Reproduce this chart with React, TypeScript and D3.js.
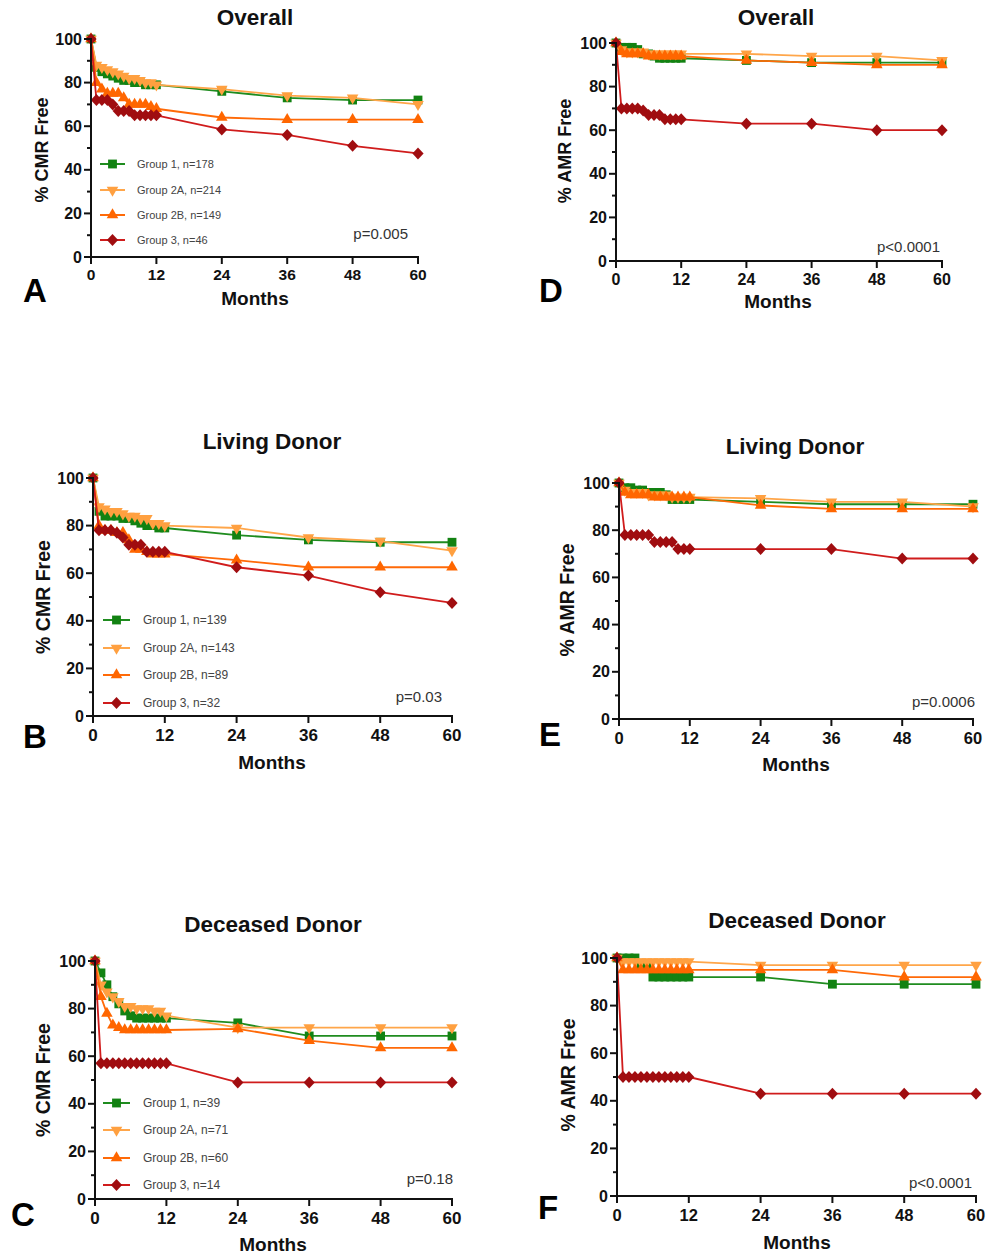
import React from "react";
import * as d3 from "d3";

// Follow-up time points (months) shared by every curve
const MONTHS = [0, 1, 2, 3, 4, 5, 6, 7, 8, 9, 10, 11, 12, 24, 36, 48, 60];
const X_TICKS = [0, 12, 24, 36, 48, 60];
const Y_TICKS = [0, 20, 40, 60, 80, 100];
const Y_MINOR = [10, 30, 50, 70, 90];
const GROUP_NAMES = ["Group 1", "Group 2A", "Group 2B", "Group 3"];

// CMR-free, overall
const CMR_ALL_G1 = [100, 87, 85, 84, 83, 82, 81, 81, 80, 80, 79, 79, 79, 76, 73, 72, 72];
const CMR_ALL_G2A = [100, 88, 87, 86, 85, 84, 83, 82, 82, 81, 80, 80, 79, 77, 74, 73, 70];
const CMR_ALL_G2B = [100, 80, 77, 75, 75, 75, 73, 70, 70, 70, 70, 69, 68, 64, 63, 63, 63];
const CMR_ALL_G3 = [100, 72, 72, 72, 70, 67, 67, 67, 65, 65, 65, 65, 65, 58.5, 56, 51, 47.5];
const CMR_ALL_N = [178, 214, 149, 46];

// CMR-free, living donor
const CMR_LD_G1 = [100, 86, 84, 84, 84, 83, 83, 82, 81, 80, 80, 79, 79, 76, 74, 73, 73];
const CMR_LD_G2A = [100, 88, 87, 86, 86, 85, 84, 84, 83, 83, 81, 81, 80, 79, 75, 73.5, 69.5];
const CMR_LD_G2B = [100, 80, 78, 78, 77, 77, 74, 70, 70, 69, 68, 68, 68, 65.5, 62.5, 62.5, 62.5];
const CMR_LD_G3 = [100, 78, 78, 78, 77, 75, 72, 72, 72, 69, 69, 69, 69, 62.5, 59, 52, 47.5];
const CMR_LD_N = [139, 143, 89, 32];

// CMR-free, deceased donor
const CMR_DD_G1 = [100, 95, 90, 85, 82, 79, 77, 76, 76, 76, 76, 76, 76, 74, 68.5, 68.5, 68.5];
const CMR_DD_G2A = [100, 90, 87, 85, 83, 81, 81, 80, 80, 80, 79, 79, 77, 72, 72, 72, 72];
const CMR_DD_G2B = [100, 85, 78, 73, 72, 71, 71, 71, 71, 71, 71, 71, 71, 71.5, 66.5, 63.5, 63.5];
const CMR_DD_G3 = [100, 57, 57, 57, 57, 57, 57, 57, 57, 57, 57, 57, 57, 49, 49, 49, 49];
const CMR_DD_N = [39, 71, 60, 14];

// AMR-free, overall
const AMR_ALL_G1 = [100, 98, 98, 98, 97, 95, 95, 94, 93, 93, 93, 93, 93, 92, 91, 91, 91];
const AMR_ALL_G2A = [100, 97, 96, 96, 96, 96, 95, 95, 95, 95, 95, 95, 95, 95, 94, 94, 92];
const AMR_ALL_G2B = [100, 96, 95, 95, 95, 95, 94, 94, 94, 94, 94, 94, 94, 92, 91, 90, 90];
const AMR_ALL_G3 = [100, 70, 70, 70, 70, 69, 67, 67, 67, 65, 65, 65, 65, 63, 63, 60, 60];

// AMR-free, living donor
const AMR_LD_G1 = [100, 98, 98, 97, 97, 96, 96, 96, 95, 93, 93, 93, 93, 92, 91, 91, 91];
const AMR_LD_G2A = [100, 97, 96, 96, 96, 95, 95, 95, 95, 94, 94, 94, 94, 93.5, 92, 92, 90];
const AMR_LD_G2B = [100, 96, 95, 95, 95, 95, 94, 94, 94, 94, 94, 94, 94, 90.5, 89, 89, 89];
const AMR_LD_G3 = [100, 78, 78, 78, 78, 78, 75, 75, 75, 75, 72, 72, 72, 72, 72, 68, 68];

// AMR-free, deceased donor
const AMR_DD_G1 = [100, 100, 100, 100, 97, 97, 92, 92, 92, 92, 92, 92, 92, 92, 89, 89, 89];
const AMR_DD_G2A = [100, 98.5, 98.5, 98.5, 98.5, 98.5, 98.5, 98.5, 98.5, 98.5, 98.5, 98.5, 98.5, 97, 97, 97, 97];
const AMR_DD_G2B = [100, 95, 95, 95, 95, 95, 95, 95, 95, 95, 95, 95, 95, 95, 95, 92, 92];
const AMR_DD_G3 = [100, 50, 50, 50, 50, 50, 50, 50, 50, 50, 50, 50, 50, 43, 43, 43, 43];

const FONT = "'Liberation Sans', Arial, Helvetica, sans-serif";

type Style = { line: string; fill: string; shape: "square" | "down" | "up" | "diamond" };
const STYLES: Style[] = [
  { line: "#1f8c1f", fill: "#128212", shape: "square" },
  { line: "#ffa64a", fill: "#ffa040", shape: "down" },
  { line: "#ff6a08", fill: "#ff6600", shape: "up" },
  { line: "#d01c1c", fill: "#a00d10", shape: "diamond" },
];

// square and triangles come from d3.symbol; the diamond is a slightly wider custom rhombus
const DIAMOND = "M0,-6L5.6,0L0,6L-5.6,0Z";
const symbolPath = (shape: Style["shape"]) => {
  if (shape === "square") return d3.symbol(d3.symbolSquare, 78)() as string;
  if (shape === "diamond") return DIAMOND;
  return d3.symbol(d3.symbolTriangle, 58)() as string;
};

const Marker = ({ x, y, s }: { x: number; y: number; s: Style }) => (
  <path
    d={symbolPath(s.shape)}
    transform={`translate(${x},${y})${s.shape === "down" ? " rotate(180)" : ""}`}
    fill={s.fill}
  />
);

type PanelCfg = {
  x0: number; x1: number; yTop: number; yBot: number;
  title: string; titleX: number; titleY: number;
  letter: string; letterX: number; letterY: number;
  yLabel: string; yLabelX: number; yLabelY: number; yLabelFs: number;
  monthsX: number; monthsY: number;
  xTickFs: number; xTickDy: number;
  pText: string; pX: number; pY: number;
  series: number[][];
  legendN?: number[];
  legend?: { lx1: number; lx2: number; tx: number; rows: number[]; fs: number };
};

const PANELS: PanelCfg[] = [
  {
    x0: 91, x1: 418, yTop: 39, yBot: 257,
    title: "Overall", titleX: 255, titleY: 25,
    letter: "A", letterX: 35, letterY: 302,
    yLabel: "% CMR Free", yLabelX: 48, yLabelY: 150, yLabelFs: 18,
    monthsX: 255, monthsY: 305, xTickFs: 15.5, xTickDy: 23,
    pText: "p=0.005", pX: 408, pY: 239,
    series: [CMR_ALL_G1, CMR_ALL_G2A, CMR_ALL_G2B, CMR_ALL_G3],
    legendN: CMR_ALL_N,
    legend: { lx1: 100, lx2: 125, tx: 137, rows: [164, 190, 215, 240], fs: 11 },
  },
  {
    x0: 616, x1: 942, yTop: 43, yBot: 261,
    title: "Overall", titleX: 776, titleY: 25,
    letter: "D", letterX: 551, letterY: 302,
    yLabel: "% AMR Free", yLabelX: 571, yLabelY: 151, yLabelFs: 18,
    monthsX: 778, monthsY: 308, xTickFs: 16, xTickDy: 24,
    pText: "p<0.0001", pX: 940, pY: 252,
    series: [AMR_ALL_G1, AMR_ALL_G2A, AMR_ALL_G2B, AMR_ALL_G3],
  },
  {
    x0: 93, x1: 452, yTop: 478, yBot: 716,
    title: "Living Donor", titleX: 272, titleY: 449,
    letter: "B", letterX: 35, letterY: 748,
    yLabel: "% CMR Free", yLabelX: 50, yLabelY: 597, yLabelFs: 19.5,
    monthsX: 272, monthsY: 769, xTickFs: 17, xTickDy: 25,
    pText: "p=0.03", pX: 442, pY: 702,
    series: [CMR_LD_G1, CMR_LD_G2A, CMR_LD_G2B, CMR_LD_G3],
    legendN: CMR_LD_N,
    legend: { lx1: 103, lx2: 130, tx: 143, rows: [620, 648, 675, 703], fs: 12 },
  },
  {
    x0: 619, x1: 973, yTop: 483, yBot: 719,
    title: "Living Donor", titleX: 795, titleY: 454,
    letter: "E", letterX: 550, letterY: 746,
    yLabel: "% AMR Free", yLabelX: 574, yLabelY: 600, yLabelFs: 19.5,
    monthsX: 796, monthsY: 771, xTickFs: 16.5, xTickDy: 25,
    pText: "p=0.0006", pX: 975, pY: 707,
    series: [AMR_LD_G1, AMR_LD_G2A, AMR_LD_G2B, AMR_LD_G3],
  },
  {
    x0: 95, x1: 452, yTop: 961, yBot: 1199,
    title: "Deceased Donor", titleX: 273, titleY: 932,
    letter: "C", letterX: 23, letterY: 1226,
    yLabel: "% CMR Free", yLabelX: 50, yLabelY: 1080, yLabelFs: 19.5,
    monthsX: 273, monthsY: 1251, xTickFs: 17, xTickDy: 25,
    pText: "p=0.18", pX: 453, pY: 1184,
    series: [CMR_DD_G1, CMR_DD_G2A, CMR_DD_G2B, CMR_DD_G3],
    legendN: CMR_DD_N,
    legend: { lx1: 103, lx2: 130, tx: 143, rows: [1103, 1130, 1158, 1185], fs: 12 },
  },
  {
    x0: 617, x1: 976, yTop: 958, yBot: 1196,
    title: "Deceased Donor", titleX: 797, titleY: 928,
    letter: "F", letterX: 548, letterY: 1219,
    yLabel: "% AMR Free", yLabelX: 575, yLabelY: 1075, yLabelFs: 19.5,
    monthsX: 797, monthsY: 1249, xTickFs: 16.5, xTickDy: 25,
    pText: "p<0.0001", pX: 972, pY: 1188,
    series: [AMR_DD_G1, AMR_DD_G2A, AMR_DD_G2B, AMR_DD_G3],
  },
];

const Panel = ({ p }: { p: PanelCfg }) => {
  const x = d3.scaleLinear().domain([0, 60]).range([p.x0, p.x1]);
  const y = d3.scaleLinear().domain([0, 100]).range([p.yBot, p.yTop]);
  const line = d3
    .line<number>()
    .x((_, i) => x(MONTHS[i]))
    .y((v) => y(v));

  return (
    <g>
      {/* curves: connected KM estimates with markers */}
      {p.series.map((vals, gi) => (
        <g key={gi}>
          <path d={line(vals) as string} fill="none" stroke={STYLES[gi].line} strokeWidth={1.8} />
          {vals.map((v, i) => (
            <Marker key={i} x={x(MONTHS[i])} y={y(v)} s={STYLES[gi]} />
          ))}
        </g>
      ))}

      {/* axes */}
      <line x1={p.x0} x2={p.x0} y1={y(100) - 1} y2={p.yBot + 1} stroke="#111" strokeWidth={2} />
      <line x1={p.x0 - 1} x2={p.x1 + 1} y1={p.yBot} y2={p.yBot} stroke="#111" strokeWidth={2} />
      {Y_TICKS.map((t) => (
        <g key={"y" + t}>
          <line x1={p.x0 - 7} x2={p.x0} y1={y(t)} y2={y(t)} stroke="#111" strokeWidth={2} />
          <text
            x={p.x0 - 9}
            y={y(t) + 5.5}
            textAnchor="end"
            fontFamily={FONT}
            fontWeight="bold"
            fontSize={16}
            fill="#111"
          >
            {t}
          </text>
        </g>
      ))}
      {Y_MINOR.map((t) => (
        <line key={"m" + t} x1={p.x0 - 4} x2={p.x0} y1={y(t)} y2={y(t)} stroke="#111" strokeWidth={2} />
      ))}
      {X_TICKS.map((t) => (
        <g key={"x" + t}>
          <line x1={x(t)} x2={x(t)} y1={p.yBot} y2={p.yBot + 7} stroke="#111" strokeWidth={2} />
          <text
            x={x(t)}
            y={p.yBot + p.xTickDy}
            textAnchor="middle"
            fontFamily={FONT}
            fontWeight="bold"
            fontSize={p.xTickFs}
            fill="#111"
          >
            {t}
          </text>
        </g>
      ))}

      {/* titles and labels */}
      <text x={p.titleX} y={p.titleY} textAnchor="middle" fontFamily={FONT} fontWeight="bold" fontSize={22.5} fill="#111">
        {p.title}
      </text>
      <text x={p.monthsX} y={p.monthsY} textAnchor="middle" fontFamily={FONT} fontWeight="bold" fontSize={19} fill="#111">
        Months
      </text>
      <text
        transform={`translate(${p.yLabelX},${p.yLabelY}) rotate(-90)`}
        textAnchor="middle"
        fontFamily={FONT}
        fontWeight="bold"
        fontSize={p.yLabelFs}
        fill="#111"
      >
        {p.yLabel}
      </text>
      <text x={p.letterX} y={p.letterY} textAnchor="middle" fontFamily={FONT} fontWeight="bold" fontSize={33} fill="#000">
        {p.letter}
      </text>
      <text x={p.pX} y={p.pY} textAnchor="end" fontFamily={FONT} fontSize={15} fill="#333">
        {p.pText}
      </text>

      {/* legend */}
      {p.legend &&
        p.legendN &&
        GROUP_NAMES.map((g, gi) => {
          const L = p.legend!;
          const ry = L.rows[gi];
          return (
            <g key={"lg" + gi}>
              <line x1={L.lx1} x2={L.lx2} y1={ry} y2={ry} stroke={STYLES[gi].line} strokeWidth={2} />
              <Marker x={(L.lx1 + L.lx2) / 2} y={ry} s={STYLES[gi]} />
              <text x={L.tx} y={ry + L.fs * 0.36} fontFamily={FONT} fontSize={L.fs} fill="#444">
                {`${g}, n=${p.legendN![gi]}`}
              </text>
            </g>
          );
        })}
    </g>
  );
};

export default function App() {
  return (
    <svg
      width={990}
      height={1257}
      viewBox="0 0 990 1257"
      style={{ position: "absolute", left: 0, top: 0, background: "#fff" }}
    >
      <rect width={990} height={1257} fill="#fff" />
      {PANELS.map((p, i) => (
        <Panel key={i} p={p} />
      ))}
    </svg>
  );
}
